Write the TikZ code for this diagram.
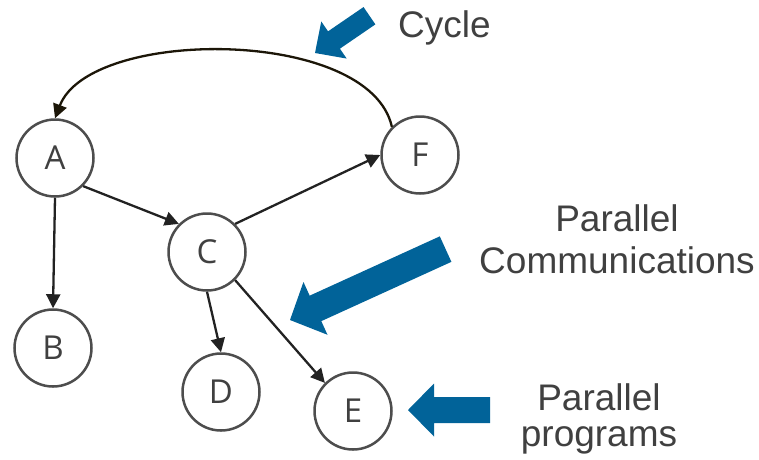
\documentclass[tikz,border=0pt]{standalone}
\usepackage{fontspec}
\setmainfont{Liberation Sans}
\newfontfamily\nodefont{Open Sans}
\usetikzlibrary{arrows.meta}
\definecolor{arrowblue}{RGB}{1,99,153}
\definecolor{txtgray}{RGB}{64,64,64}
\definecolor{circgray}{RGB}{77,77,77}
\definecolor{edgeblack}{RGB}{34,34,34}
\definecolor{cycblack}{RGB}{28,22,8}
\newcommand\bigarrow[8]{\fill[arrowblue, shift={(#2,#3)}, rotate=#4] (0,0) -- (#6,#7/2) -- (#6,#8/2) -- (#5,#8/2) -- (#5,-#8/2) -- (#6,-#8/2) -- (#6,-#7/2) -- cycle;
  \coordinate (#1) at (#2,#3);}
\begin{document}
\begin{tikzpicture}[x=1pt,y=1pt,
  vtx/.style={circle, draw=circgray, line width=2.5pt, minimum size=77pt, inner sep=0pt,
    font=\nodefont\fontsize{33}{33}\selectfont, text=txtgray},
  edge/.style={line width=2.3pt, draw=edgeblack, -{Triangle[length=14pt,width=14pt]}},
  cyc/.style={line width=2.3pt, draw=cycblack, -{Triangle[length=14pt,width=14pt]}},
  lbl/.style={font=\fontsize{37}{37}\selectfont, text=txtgray, inner sep=0pt, anchor=base}]
\useasboundingbox (0,0) rectangle (759,-459);
\node[vtx] (A) at (55,-158) {A};
\node[vtx] (B) at (53,-348) {B};
\node[vtx] (C) at (207,-252) {C};
\node[vtx] (D) at (221,-392) {D};
\node[vtx] (E) at (353,-411) {E};
\node[vtx] (F) at (420,-155) {F};
\draw[edge] (A.-45) -- (C.135);
\draw[edge] (A.south) -- (B.north);
\draw[edge] (C.45) -- (F.west);
\draw[edge] (C.south) -- (D.north);
\draw[edge] (C.-45) -- (E.135);
\draw[cyc] (F.135) .. controls (370,-27) and (90,-27) .. (A.north);
\bigarrow{cyctip}{315}{-53}{34.4}{66}{23}{45}{21}
\bigarrow{commtip}{290}{-320}{24.5}{171}{28}{58}{28}
\bigarrow{progtip}{408}{-410}{0}{82}{26}{53}{26}
\node[lbl, anchor=base west] (cyclbl) at (398,-37) {Cycle};
\node[lbl] (comm1) at (617,-231) {Parallel};
\node[lbl] (comm2) at (617,-273) {Communications};
\node[lbl] (prog1) at (599,-410) {Parallel};
\node[lbl] (prog2) at (599,-446) {programs};
\end{tikzpicture}
\end{document}
